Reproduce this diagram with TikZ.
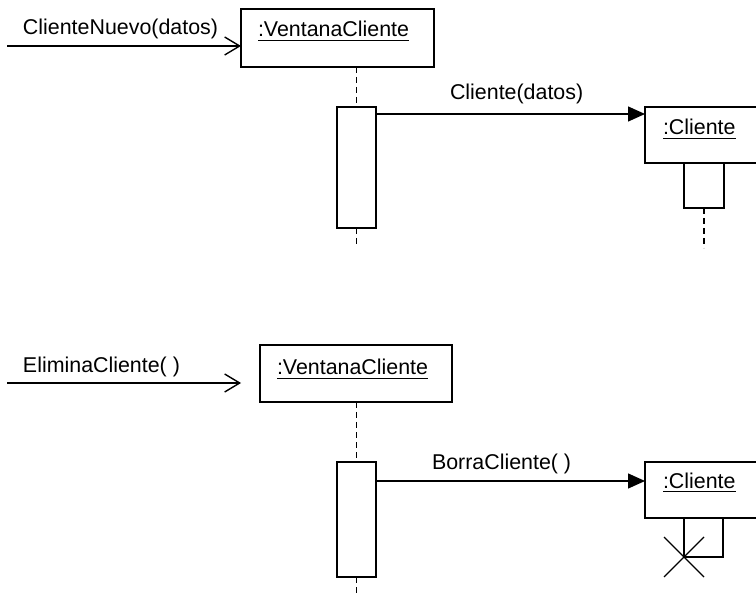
\documentclass[tikz,border=0pt]{standalone}
\usepackage{fontspec}
\setmainfont{Liberation Sans}
\usetikzlibrary{arrows.meta,calc}
% object name with a rule underneath
\newcommand{\objname}[1]{\setbox0\hbox{#1}\rlap{\rule[-4pt]{\wd0}{1.2pt}}\box0}
\begin{document}
\begin{tikzpicture}[x=1pt,y=-1pt,
  line width=1.4pt,
  every node/.style={inner sep=0pt,outer sep=0pt,font=\fontsize{21.4}{25}\selectfont},
  objbox/.style={draw,rectangle,minimum width=#1},
  actbox/.style={draw,fill=white,rectangle},
  lifeline/.style={dash pattern=on 6pt off 4pt},
  txt/.style={anchor=base west},
  callmsg/.style={-{Triangle[length=17pt,width=15pt]}},
  inmsg/.style={-{Straight Barb[length=15pt,width=18pt,line width=1.4pt]}}]
\clip (0,0) rectangle (756,596);

% ---------- creation ----------
\node[objbox=193pt,minimum height=58pt] (ven1) at (337.5,38) {};
\node[txt] (ven1t) at (258,37) {\objname{:VentanaCliente}};
\node[actbox,minimum width=39pt,minimum height=121pt] (act1) at (356.5,167.5) {};
\node[objbox=130pt,minimum height=56pt] (cli1) at (710,135) {};
\node[txt] (cli1t) at (663,135) {\objname{:Cliente}};
\node[actbox,minimum width=40pt,minimum height=45pt] (ca1) at (704,185.5) {};

\coordinate (in1) at (7,46);
\coordinate (end1) at (356.5,246);
\coordinate (end3) at (704,248);
\coordinate (m1) at (376,114);

\node[txt] (l1) at (23,35) {ClienteNuevo(datos)};
\node[txt] (l2) at (450,100) {Cliente(datos)};

\draw[inmsg] (in1) -- (in1 -| ven1.west);
\draw[lifeline] (act1.north |- ven1.south) -- (act1.north);
\draw[lifeline] (act1.south) -- (end1);
\draw[callmsg] (act1.east |- m1) -- (m1 -| cli1.west);
\draw[lifeline] (ca1.south) -- (end3);

% ---------- deletion ----------
\node[objbox=192pt,minimum height=57pt] (ven2) at (356,373.5) {};
\node[txt] (ven2t) at (277,375) {\objname{:VentanaCliente}};
\node[actbox,minimum width=39pt,minimum height=115pt] (act2) at (356.5,519.5) {};
\node[objbox=130pt,minimum height=56pt] (cli2) at (710,490) {};
\node[txt] (cli2t) at (663,488) {\objname{:Cliente}};
\node[actbox,minimum width=39pt,minimum height=39pt] (ca2) at (703.5,537.5) {};

\coordinate (in2) at (7,383);
\coordinate (tip2) at (241,383);
\coordinate (end2) at (356.5,600);
\coordinate (m2) at (376,481);

\node[txt] (l3) at (23,373) {EliminaCliente( )};
\node[txt] (l4) at (432,469) {BorraCliente( )};

\draw[inmsg] (in2) -- (tip2);
\draw[lifeline] (act2.north |- ven2.south) -- (act2.north);
\draw[lifeline] (act2.south) -- (end2);
\draw[callmsg] (act2.east |- m2) -- (m2 -| cli2.west);

% destruction mark
\draw[line width=1.2pt] ($(ca2.south west)+(-20,-20)$) -- ($(ca2.south west)+(20,20)$);
\draw[line width=1.2pt] ($(ca2.south west)+(20,-20)$) -- ($(ca2.south west)+(-20,20)$);
\end{tikzpicture}
\end{document}
